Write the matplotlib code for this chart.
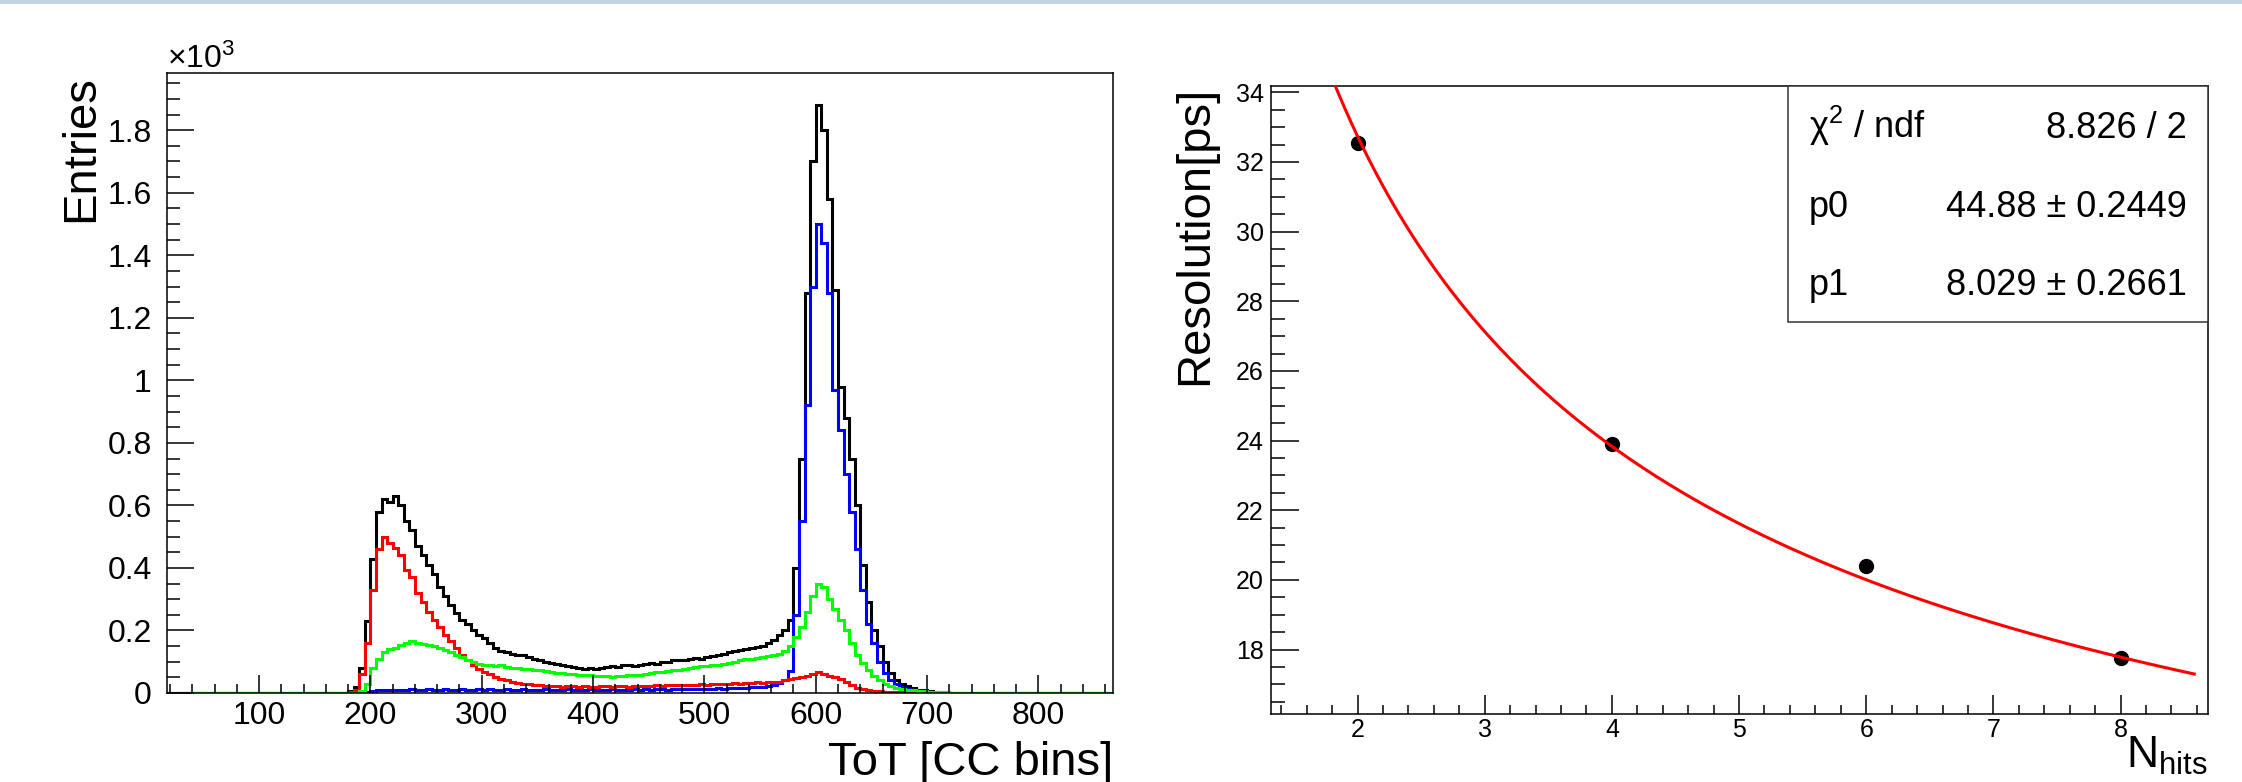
import numpy as np
import matplotlib.pyplot as plt
from matplotlib.ticker import MultipleLocator, FuncFormatter
from matplotlib.patches import Rectangle

plt.rcParams['font.family'] = ['Liberation Sans', 'DejaVu Sans']
plt.rcParams['mathtext.fontset'] = 'custom'
plt.rcParams['mathtext.rm'] = 'Liberation Sans'
plt.rcParams['mathtext.it'] = 'Liberation Sans'
plt.rcParams['mathtext.default'] = 'regular'

# ---- left panel: ToT spectra (entries in units of 10^3), 5 CC bins per bin, from 180 to 720
tot_lo = 180
tot_bw = 5
tot_black = [
    0.005, 0.02, 0.08, 0.23, 0.43, 0.58, 0.62, 0.61, 0.63, 0.60,
    0.55, 0.52, 0.47, 0.44, 0.41, 0.38, 0.34, 0.31, 0.28, 0.255,
    0.235, 0.22, 0.20, 0.185, 0.175, 0.16, 0.145, 0.135, 0.13, 0.125,
    0.12, 0.12, 0.115, 0.11, 0.105, 0.10, 0.095, 0.092, 0.09, 0.085,
    0.082, 0.08, 0.078, 0.08, 0.078, 0.08, 0.082, 0.085, 0.083, 0.088,
    0.09, 0.087, 0.09, 0.093, 0.095, 0.092, 0.098, 0.10, 0.104, 0.106,
    0.105, 0.11, 0.112, 0.11, 0.115, 0.118, 0.122, 0.125, 0.13, 0.135,
    0.138, 0.14, 0.145, 0.148, 0.15, 0.16, 0.17, 0.185, 0.20, 0.235,
    0.40, 0.75, 1.28, 1.70, 1.88, 1.80, 1.58, 1.29, 0.98, 0.88,
    0.75, 0.60, 0.41, 0.29, 0.20, 0.15, 0.10, 0.065, 0.042, 0.03,
    0.022, 0.015, 0.01, 0.008, 0.006, 0.004, 0.003, 0.002]
tot_blue = [
    0, 0, 0, 0.003, 0.006, 0.008, 0.009, 0.010, 0.009, 0.011,
    0.010, 0.012, 0.010, 0.011, 0.012, 0.010, 0.011, 0.012, 0.011, 0.010,
    0.012, 0.011, 0.010, 0.012, 0.011, 0.013, 0.010, 0.011, 0.012, 0.010,
    0.011, 0.012, 0.010, 0.011, 0.010, 0.012, 0.011, 0.010, 0.011, 0.012,
    0.010, 0.011, 0.010, 0.012, 0.011, 0.010, 0.011, 0.012, 0.011, 0.010,
    0.011, 0.012, 0.011, 0.012, 0.011, 0.013, 0.012, 0.011, 0.012, 0.013,
    0.012, 0.013, 0.012, 0.014, 0.013, 0.014, 0.015, 0.014, 0.016, 0.015,
    0.017, 0.016, 0.018, 0.019, 0.020, 0.022, 0.026, 0.032, 0.040, 0.070,
    0.25, 0.55, 0.92, 1.30, 1.50, 1.44, 1.28, 0.97, 0.84, 0.70,
    0.58, 0.46, 0.33, 0.22, 0.16, 0.10, 0.065, 0.040, 0.028, 0.020,
    0.014, 0.010, 0.008, 0.006, 0.004, 0.003, 0.002, 0.002]
tot_red = [
    0.002, 0.01, 0.06, 0.16, 0.33, 0.46, 0.50, 0.48, 0.465, 0.44,
    0.395, 0.37, 0.32, 0.29, 0.26, 0.235, 0.21, 0.185, 0.165, 0.145,
    0.12, 0.105, 0.09, 0.078, 0.068, 0.06, 0.05, 0.045, 0.04, 0.035,
    0.032, 0.03, 0.028, 0.027, 0.025, 0.022, 0.021, 0.023, 0.020, 0.021,
    0.022, 0.020, 0.021, 0.019, 0.020, 0.022, 0.021, 0.020, 0.022, 0.021,
    0.020, 0.022, 0.023, 0.021, 0.022, 0.024, 0.023, 0.025, 0.024, 0.026,
    0.025, 0.027, 0.026, 0.028, 0.027, 0.029, 0.028, 0.030, 0.029, 0.031,
    0.030, 0.031, 0.032, 0.034, 0.033, 0.035, 0.036, 0.036, 0.040, 0.045,
    0.048, 0.05, 0.055, 0.06, 0.068, 0.062, 0.055, 0.05, 0.045, 0.035,
    0.025, 0.017, 0.012, 0.009, 0.006, 0.005, 0.004, 0.003, 0.003, 0.002,
    0.002, 0.002, 0.001, 0.001, 0.001, 0.001, 0.001, 0.001]
tot_green = [
    0, 0, 0.005, 0.03, 0.08, 0.11, 0.13, 0.14, 0.145, 0.155,
    0.16, 0.165, 0.16, 0.158, 0.152, 0.15, 0.143, 0.137, 0.13, 0.123,
    0.115, 0.105, 0.098, 0.094, 0.09, 0.088, 0.085, 0.088, 0.082, 0.08,
    0.079, 0.077, 0.076, 0.074, 0.073, 0.07, 0.068, 0.065, 0.063, 0.062,
    0.06, 0.058, 0.057, 0.056, 0.054, 0.053, 0.055, 0.052, 0.054, 0.055,
    0.056, 0.057, 0.058, 0.061, 0.063, 0.066, 0.068, 0.07, 0.072, 0.074,
    0.077, 0.08, 0.083, 0.085, 0.087, 0.088, 0.09, 0.093, 0.097, 0.10,
    0.105, 0.108, 0.11, 0.113, 0.116, 0.118, 0.12, 0.125, 0.135, 0.15,
    0.18, 0.21, 0.26, 0.31, 0.35, 0.34, 0.30, 0.27, 0.235, 0.20,
    0.16, 0.12, 0.095, 0.075, 0.055, 0.04, 0.03, 0.022, 0.017, 0.013,
    0.01, 0.008, 0.006, 0.005, 0.004, 0.003, 0.002, 0.002]
tot_range = (15, 870)  # histogram axis range, empty bins outside the data

# ---- right panel: resolution vs number of hits + fit
n_hits = [2, 4, 6, 8]
resolution = [32.55, 23.9, 20.4, 17.76]
chi2, ndf = 8.826, 2
p0, p0_err = 44.88, 0.2449
p1, p1_err = 8.029, 0.2661

W, H = 2242, 782
fig = plt.figure(figsize=(W / 100, H / 100), dpi=100)


def fx(x):
    return x / W


def fy(y):
    return 1 - y / H


# light frame line at the very top of the screenshot
fig.patches.append(Rectangle((0, fy(4)), 1, 4 / H, transform=fig.transFigure,
                             color='#c3d3e6', lw=0))

# ================= left =================
ax1 = fig.add_axes([fx(167), fy(693), fx(1113 - 167), (693 - 73) / H])
n_left = (tot_lo - tot_range[0]) // tot_bw
n_right = (tot_range[1] - tot_lo) // tot_bw - len(tot_black)
edges = tot_range[0] + tot_bw * np.arange(n_left + len(tot_black) + n_right + 1)
for vals, col in [(tot_black, 'black'), (tot_blue, '#0000ff'),
                  (tot_red, '#ff0000'), (tot_green, '#00ff00')]:
    full = np.concatenate([np.zeros(n_left), vals, np.zeros(n_right)])
    ax1.stairs(full, edges, color=col, lw=2.2, baseline=None)

ax1.set_xlim(17.3, 867)
ax1.set_ylim(0, 1.983)
ax1.xaxis.set_major_locator(MultipleLocator(100))
ax1.xaxis.set_minor_locator(MultipleLocator(20))
ax1.yaxis.set_major_locator(MultipleLocator(0.2))
ax1.yaxis.set_minor_locator(MultipleLocator(0.05))
ax1.yaxis.set_major_formatter(FuncFormatter(lambda v, p: f'{round(v, 2):g}'))
ax1.xaxis.set_major_formatter(FuncFormatter(lambda v, p: '' if v < 50 else f'{v:g}'))
ax1.tick_params(which='both', direction='in', top=False, right=False,
                labelsize=23, width=1.1)
ax1.tick_params(axis='y', which='major', length=19.5, pad=11)
ax1.tick_params(axis='y', which='minor', length=9.5)
ax1.tick_params(axis='x', which='major', length=13, pad=6)
ax1.tick_params(axis='x', which='minor', length=6.5)
for s in ax1.spines.values():
    s.set_linewidth(1.1)

fig.text(fx(167), fy(68), '×10$^{3}$', fontsize=23, ha='left', va='baseline')
fig.text(fx(81), fy(75), 'Entries', fontsize=34, rotation=90, ha='center', va='top')
fig.text(fx(1113), fy(775), 'ToT [CC bins]', fontsize=34, ha='right', va='baseline')

# ================= right =================
ax2 = fig.add_axes([fx(1270.5), fy(714), fx(2208 - 1270.5), (714 - 86) / H])
xs = np.linspace(1.42, 8.58, 300)
ax2.plot(xs, np.sqrt(p0 ** 2 / xs + p1 ** 2), color='#ff0000', lw=2.2, zorder=3)
ax2.plot(n_hits, resolution, 'o', color='black', ms=10, zorder=2)
ax2.set_xlim(1.315, 8.688)
ax2.set_ylim(16.15, 34.18)
ax2.xaxis.set_major_locator(MultipleLocator(1))
ax2.xaxis.set_minor_locator(MultipleLocator(0.2))
ax2.yaxis.set_major_locator(MultipleLocator(2))
ax2.yaxis.set_minor_locator(MultipleLocator(0.5))
ax2.tick_params(which='both', direction='in', top=False, right=False,
                labelsize=18, width=1.1)
ax2.tick_params(axis='y', which='major', length=20, pad=5)
ax2.tick_params(axis='y', which='minor', length=10)
ax2.tick_params(axis='x', which='major', length=13.5, pad=3)
ax2.tick_params(axis='x', which='minor', length=6.7)
for lab in ax2.get_xticklabels() + ax2.get_yticklabels():
    lab.set_fontfamily(['Liberation Sans Narrow', 'Liberation Sans'])
for s in ax2.spines.values():
    s.set_linewidth(1.1)

fig.text(fx(1195), fy(86), 'Resolution[ps]', fontsize=34, rotation=90,
         ha='center', va='top')
fig.text(fx(2208), fy(768), 'N$_{hits}$', fontsize=32, ha='right', va='baseline')

# stat box
box_l, box_b = (1788 - 1270.5) / 937.5, (714 - 322) / 628
ax2.add_patch(Rectangle((box_l, box_b), 1 - box_l, 1 - box_b, transform=ax2.transAxes,
                        facecolor='white', edgecolor='#333333', lw=1.1,
                        clip_on=False, zorder=5))
rows = [('χ$^{2}$ / ndf', f'{chi2:g} / {ndf}', 138),
        ('p0', f'{p0:g} ± {p0_err:g}', 217),
        ('p1', f'{p1:g} ± {p1_err:g}', 295)]
for lab, val, yb in rows:
    fig.text(fx(1809), fy(yb), lab, fontsize=26, ha='left', va='baseline', zorder=6)
    fig.text(fx(2187), fy(yb), val, fontsize=26, ha='right', va='baseline', zorder=6)

fig.savefig('out.png', dpi=100)
